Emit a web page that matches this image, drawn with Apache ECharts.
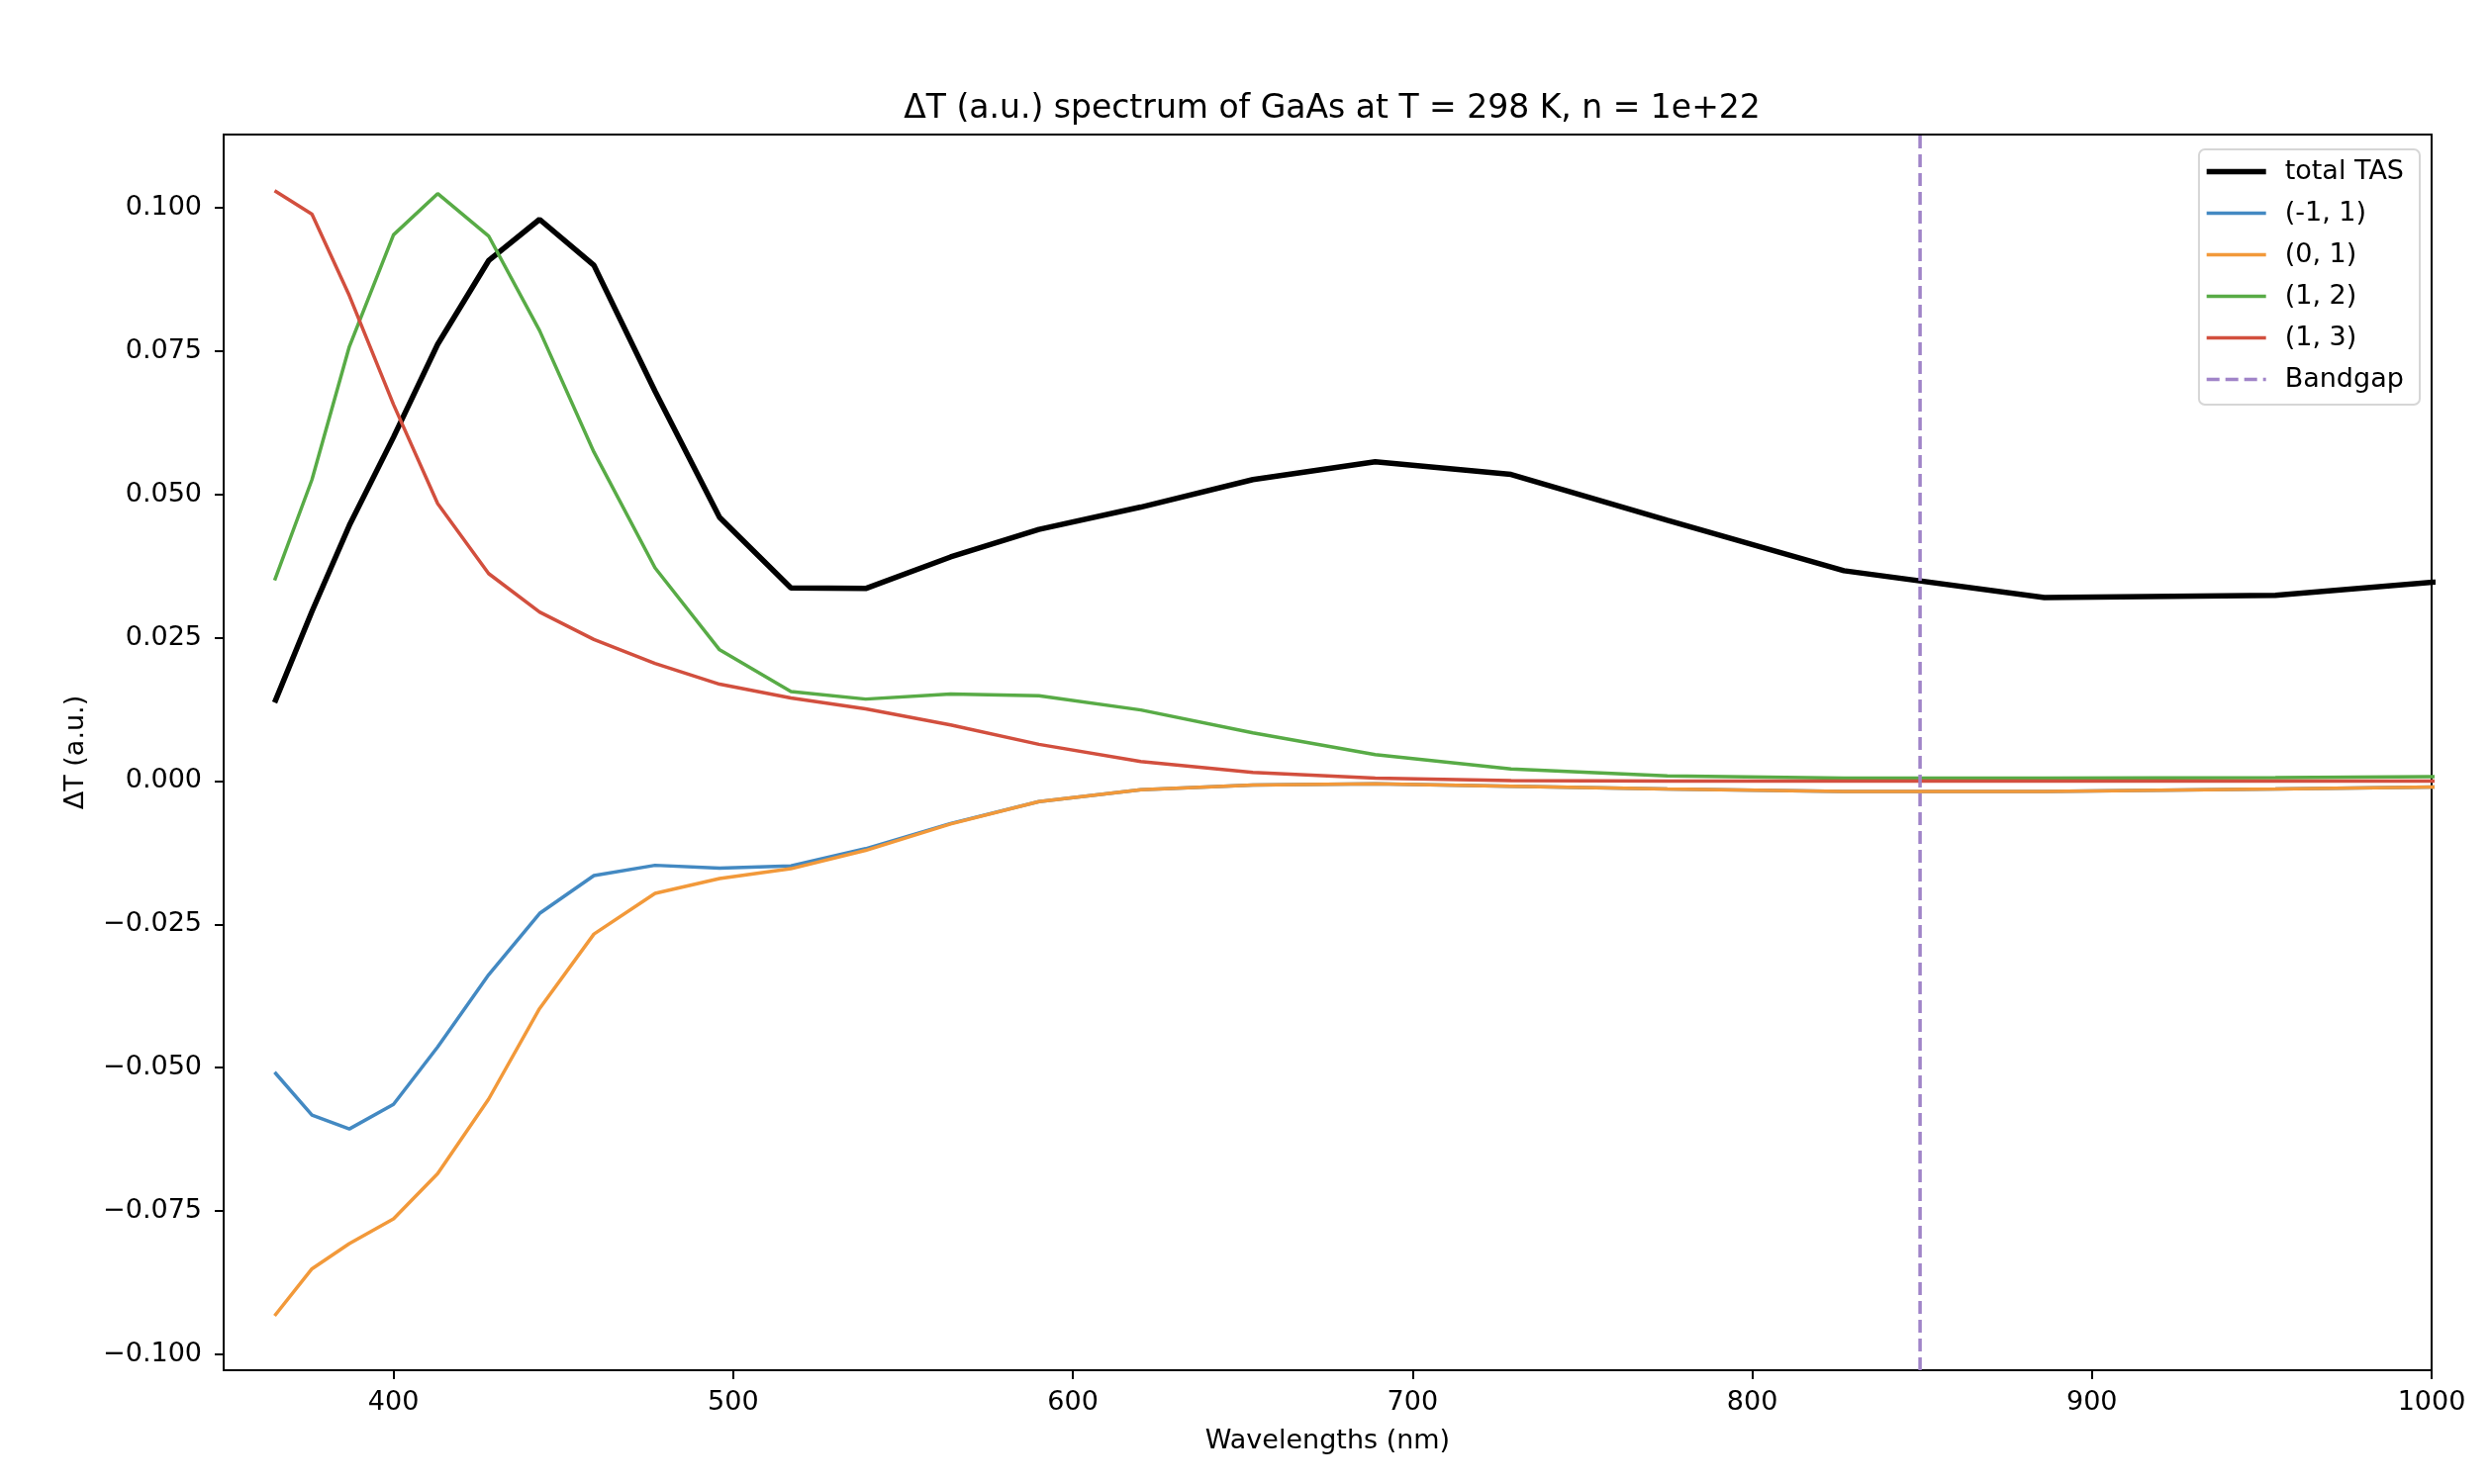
<!DOCTYPE html>
<html>
<head>
<meta charset="utf-8">
<title>GaAs TAS spectrum</title>
<script src="https://cdn.jsdelivr.net/npm/echarts@6.0.0/dist/echarts.min.js"></script>
<style>
  html, body { margin: 0; padding: 0; background: #fff; }
  #chartmain { width: 2516px; height: 1500px; }
</style>
</head>
<body>
<div id="chartmain"></div>
<script>
// wavelengths (nm) of the sampled points
var wavelengths = [365, 376, 387, 400, 413, 428, 443, 459, 477, 496, 517, 539, 564, 590, 620, 653, 689, 729, 775, 827, 886, 954, 1033];

// series values (a.u.)
var totalTAS = [0.0137, 0.0296, 0.0446, 0.0600, 0.0762, 0.0908, 0.0980, 0.0900, 0.0680, 0.0460, 0.0337, 0.0336, 0.0391, 0.0439, 0.0478, 0.0526, 0.0557, 0.0535, 0.0455, 0.0367, 0.0320, 0.0324, 0.0363];
var trans_m1_1 = [-0.0508, -0.0583, -0.0607, -0.0564, -0.0464, -0.0338, -0.0231, -0.0165, -0.0147, -0.0152, -0.0148, -0.0118, -0.0074, -0.0036, -0.0015, -0.0007, -0.0005, -0.0009, -0.0014, -0.0018, -0.0018, -0.0014, -0.0008];
var trans_0_1 = [-0.0933, -0.0851, -0.0807, -0.0764, -0.0685, -0.0555, -0.0397, -0.0267, -0.0196, -0.0170, -0.0153, -0.0121, -0.0075, -0.0036, -0.0015, -0.0007, -0.0005, -0.0009, -0.0014, -0.0018, -0.0018, -0.0014, -0.0008];
var trans_1_2 = [0.0350, 0.0526, 0.0758, 0.0953, 0.1025, 0.0951, 0.0786, 0.0574, 0.0372, 0.0229, 0.0156, 0.0143, 0.0152, 0.0149, 0.0124, 0.0084, 0.0046, 0.0021, 0.0009, 0.0005, 0.0005, 0.0006, 0.0009];
var trans_1_3 = [0.1030, 0.0989, 0.0847, 0.0657, 0.0484, 0.0362, 0.0295, 0.0247, 0.0205, 0.0169, 0.0145, 0.0126, 0.0098, 0.0064, 0.0034, 0.0015, 0.0005, 0.0001, 0.0000, 0.0000, 0.0000, 0.0000, 0.0000];

var bandgap = 849.4;

// axis limits and ticks
var xMin = 350, xMax = 1000;
var yMin = -0.1028, yMax = 0.1128;
var xTicks = [400, 500, 600, 700, 800, 900, 1000];
var yTicks = [-0.1, -0.075, -0.05, -0.025, 0, 0.025, 0.05, 0.075, 0.1];

var names = ['total TAS', '(-1, 1)', '(0, 1)', '(1, 2)', '(1, 3)', 'Bandgap'];
var colors = ['#000000', '#4389c2', '#f2993a', '#58ab46', '#d24f3e', '#a084c8'];
var widths = [5.5, 3.5, 3.5, 3.5, 3.5, 3.5];
var dash = [13, 6];

function pairs(ys) {
    return wavelengths.map(function (w, i) { return [w, ys[i]]; });
}

function lineSeries(i, data) {
    return {
        name: names[i], type: 'line', symbol: 'none', clip: true, data: data,
        lineStyle: { color: colors[i], width: widths[i], type: i === 5 ? dash : 'solid' },
        itemStyle: { color: colors[i] }
    };
}

var font = 'DejaVu Sans';

option = {
    animation: false,
    backgroundColor: '#ffffff',
    title: {
        text: 'ΔT (a.u.) spectrum of GaAs at T = 298 K, n = 1e+22',
        left: 1341,
        textAlign: 'center',
        top: 89,
        textStyle: { fontFamily: font, fontSize: 33, fontWeight: 'normal', color: '#000' }
    },
    legend: {
        data: names.map(function (n, i) {
            return { name: n, lineStyle: { color: colors[i], width: widths[i], type: i === 5 ? dash : 'solid' } };
        }),
        orient: 'vertical',
        right: 71,
        top: 151,
        align: 'left',
        padding: [9, 16, 12, 5],
        itemWidth: 60,
        itemHeight: 27,
        itemGap: 15,
        itemStyle: { opacity: 0 },
        backgroundColor: '#ffffff',
        borderColor: '#d6d6d6',
        borderWidth: 2,
        borderRadius: 6,
        textStyle: { fontFamily: font, fontSize: 27, color: '#000', padding: [0, 0, 0, 14] }
    },
    grid: {
        left: 226,
        right: 59,
        top: 136,
        bottom: 115,
        show: true,
        borderColor: '#000',
        borderWidth: 2,
        backgroundColor: '#ffffff'
    },
    xAxis: {
        type: 'value',
        min: xMin,
        max: xMax,
        name: 'Wavelengths (nm)',
        nameLocation: 'middle',
        nameGap: 58,
        nameTextStyle: { fontFamily: font, fontSize: 27, color: '#000' },
        splitLine: { show: false },
        axisLine: { show: true, onZero: false, lineStyle: { color: '#000', width: 2 } },
        axisTick: { show: true, length: 9, lineStyle: { color: '#000', width: 2 }, customValues: xTicks },
        axisLabel: {
            margin: 19, fontFamily: font, fontSize: 27, color: '#000', customValues: xTicks,
            formatter: function (v) { return String(v); }
        }
    },
    yAxis: {
        type: 'value',
        min: yMin,
        max: yMax,
        name: 'ΔT (a.u.)',
        nameLocation: 'middle',
        nameRotate: 90,
        nameGap: 136,
        nameTextStyle: { fontFamily: font, fontSize: 27, color: '#000' },
        splitLine: { show: false },
        axisLine: { show: true, onZero: false, lineStyle: { color: '#000', width: 2 } },
        axisTick: { show: true, length: 9, lineStyle: { color: '#000', width: 2 }, customValues: yTicks },
        axisLabel: {
            margin: 22, fontFamily: font, fontSize: 27, color: '#000', customValues: yTicks,
            formatter: function (v) { return v.toFixed(3).replace('-', '\u2212'); }
        }
    },
    series: [
        lineSeries(0, pairs(totalTAS)),
        lineSeries(1, pairs(trans_m1_1)),
        lineSeries(2, pairs(trans_0_1)),
        lineSeries(3, pairs(trans_1_2)),
        lineSeries(4, pairs(trans_1_3)),
        lineSeries(5, [[bandgap, yMin], [bandgap, yMax]])
    ]
};

//初始化echarts实例
var myChart = echarts.init(document.getElementById('chartmain'));
myChart.setOption(option);
</script>
</body>
</html>
